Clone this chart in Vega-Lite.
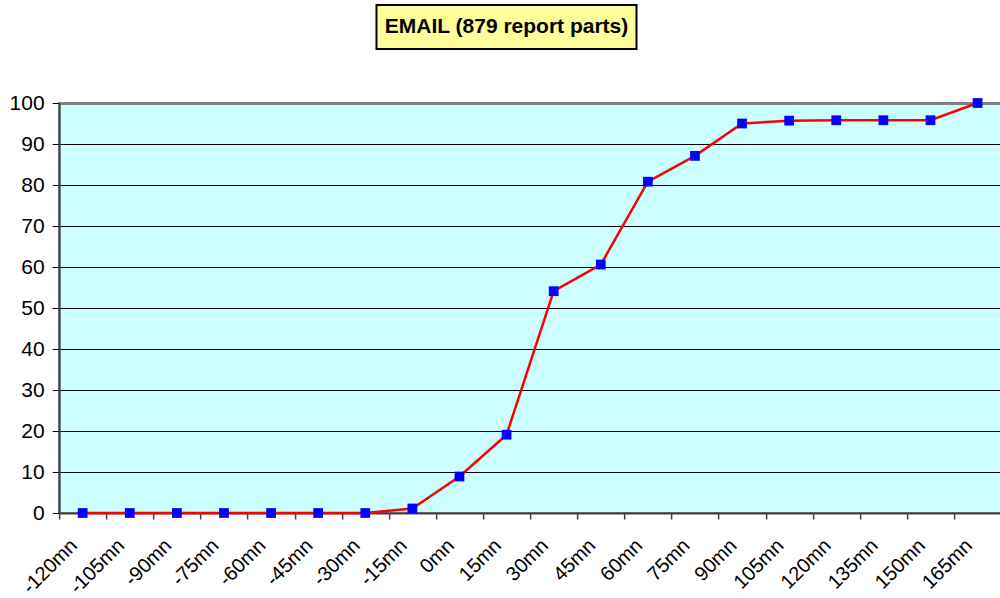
{
  "$schema": "https://vega.github.io/schema/vega-lite/v6.json",
  "background": "white",
  "padding": {"left": 8, "top": 4, "right": 0, "bottom": 0},
  "spacing": 41,
  "center": true,
  "config": {"font": "Liberation Sans"},
  "vconcat": [
    {
      "spacing": 0,
      "hconcat": [
        {
          "width": 260,
          "height": 44,
          "view": {"fill": "#FFFF99", "stroke": "black", "strokeWidth": 2},
          "data": {"values": [{"t": "EMAIL (879 report parts)"}]},
          "mark": {"type": "text", "fontWeight": "bold", "fontSize": 21, "font": "Liberation Sans", "color": "black"},
          "encoding": {"text": {"field": "t", "type": "nominal"}}
        },
        {
          "width": 48,
          "height": 44,
          "view": {"stroke": null, "fill": null},
          "data": {"values": [{"t": ""}]},
          "mark": {"type": "text", "opacity": 0},
          "encoding": {"text": {"field": "t", "type": "nominal"}}
        }
      ]
    },
    {
      "width": 942,
      "height": 410,
      "view": {"fill": "#CCFFFF", "stroke": "#808080", "strokeWidth": 2},
      "data": {"values": [
        {"t": "-120mn", "v": 0}, {"t": "-105mn", "v": 0}, {"t": "-90mn", "v": 0},
        {"t": "-75mn", "v": 0}, {"t": "-60mn", "v": 0}, {"t": "-45mn", "v": 0},
        {"t": "-30mn", "v": 0}, {"t": "-15mn", "v": 1.1}, {"t": "0mn", "v": 8.9},
        {"t": "15mn", "v": 19.1}, {"t": "30mn", "v": 54.1}, {"t": "45mn", "v": 60.6},
        {"t": "60mn", "v": 80.8}, {"t": "75mn", "v": 87.1}, {"t": "90mn", "v": 95.0},
        {"t": "105mn", "v": 95.7}, {"t": "120mn", "v": 95.8}, {"t": "135mn", "v": 95.8},
        {"t": "150mn", "v": 95.8}, {"t": "165mn", "v": 100}
      ]},
      "encoding": {
        "x": {
          "field": "t", "type": "nominal", "sort": null, "bandPosition": 0.5,
          "scale": {"type": "band", "paddingInner": 0, "paddingOuter": 0},
          "axis": {
            "title": null, "labelAngle": -45, "labelFontSize": 20, "labelColor": "black",
            "labelFont": "Liberation Sans", "tickBand": "extent", "tickSize": 6,
            "tickColor": "#404040", "tickWidth": 1.5, "domainColor": "#404040", "domainWidth": 2,
            "labelPadding": 16, "labelOffset": -16
          }
        },
        "y": {
          "field": "v", "type": "quantitative",
          "scale": {"domain": [0, 100], "nice": false},
          "axis": {
            "title": null, "values": [0, 10, 20, 30, 40, 50, 60, 70, 80, 90, 100],
            "labelFontSize": 21, "labelColor": "black", "labelFont": "Liberation Sans",
            "labelPadding": 8, "tickSize": 7, "tickColor": "black", "tickWidth": 1,
            "domainColor": "#404040", "domainWidth": 2,
            "grid": true, "gridOpacity": 1,
            "gridColor": {"condition": {"test": "datum.value === 100", "value": "#808080"}, "value": "black"},
            "gridWidth": {"condition": {"test": "datum.value === 100", "value": 3}, "value": 1}
          }
        }
      },
      "layer": [
        {"mark": {"type": "line", "color": "#FF0000", "strokeWidth": 2.5}},
        {"mark": {"type": "square", "size": 95, "color": "#0000FF", "filled": true, "opacity": 1}}
      ]
    }
  ]
}
